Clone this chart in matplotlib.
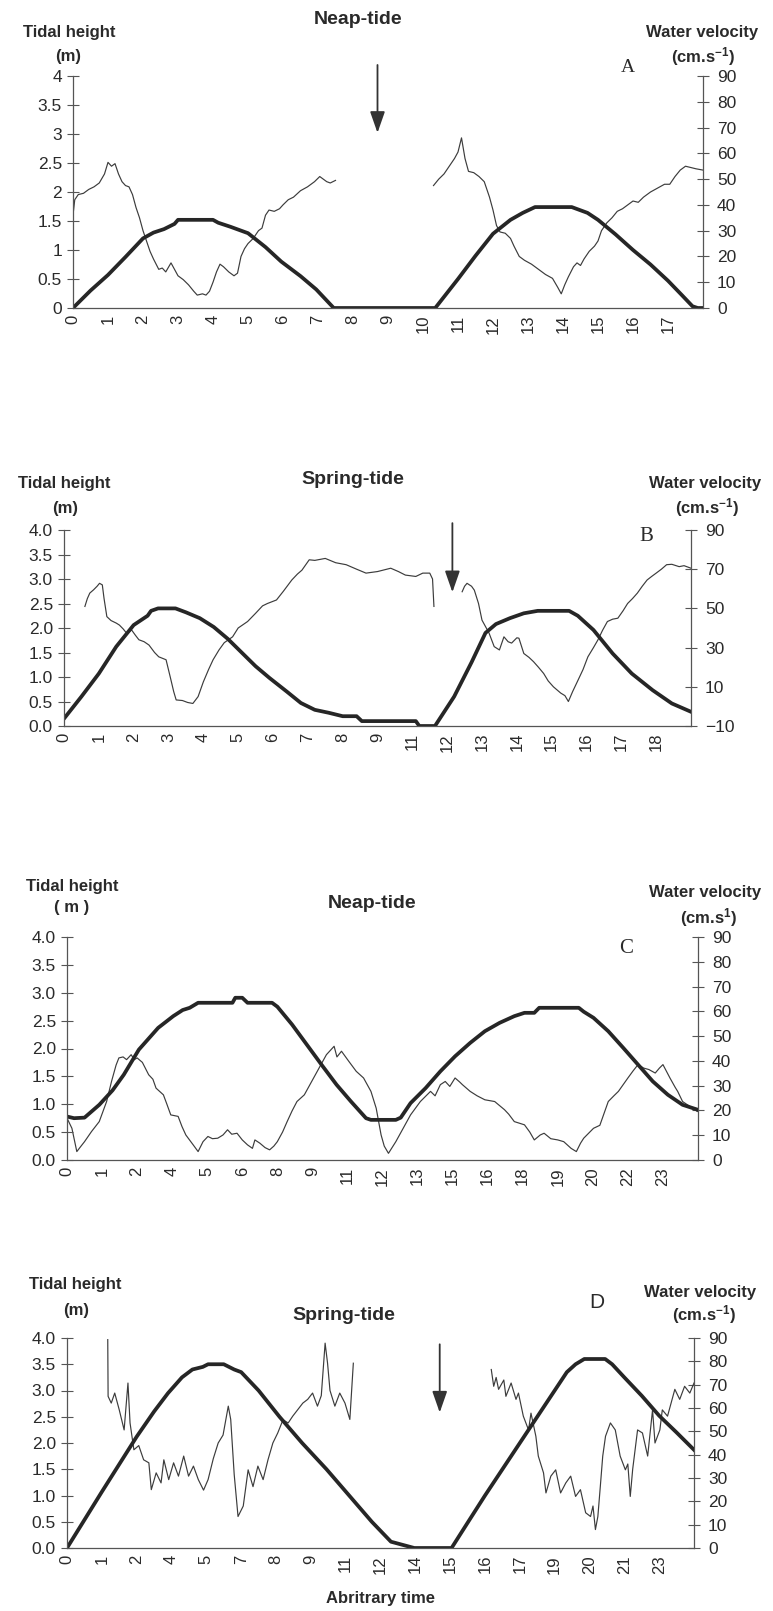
import matplotlib
matplotlib.use('Agg')
import matplotlib.pyplot as plt

# tidal height (m, left axis) and water velocity (cm/s, right axis).
# x is in "label slots": the category axis shows 18 evenly spaced labels at 0..17

# ---- panel A : neap tide ----
a_labels = ['0', '1', '2', '3', '4', '5', '6', '7', '8', '9', '10', '11', '12', '13', '14', '15', '16', '17']
a_h_t = [0, 0.5, 1.0, 1.5, 2.0, 2.3, 2.6, 2.9, 3.0, 4.0, 4.15, 4.5, 5.0, 5.5, 5.95, 6.5, 6.95, 7.45,
         10.35, 11.0, 11.5, 12.0, 12.5, 12.85, 13.2, 14.25, 14.7, 15.0, 15.5, 16.0, 16.5, 17.0, 17.4, 17.7, 17.85, 18.0]
a_h = [0, 0.3, 0.57, 0.88, 1.2, 1.3, 1.36, 1.45, 1.52, 1.52, 1.47, 1.4, 1.29, 1.05, 0.8, 0.55, 0.32, 0.0,
       0.0, 0.5, 0.9, 1.28, 1.52, 1.64, 1.74, 1.74, 1.64, 1.52, 1.27, 1.0, 0.75, 0.47, 0.22, 0.03, 0.0, 0.0]
a_v1_t = [0.0, 0.05, 0.15, 0.3, 0.45, 0.6, 0.75, 0.9, 1.0, 1.1, 1.2, 1.3, 1.4, 1.5, 1.6, 1.7, 1.8, 1.9,
          2.0, 2.1, 2.2, 2.3, 2.45, 2.55, 2.65, 2.8, 2.9, 3.0, 3.15, 3.3, 3.45, 3.55, 3.7, 3.8, 3.9, 4.0,
          4.1, 4.2, 4.3, 4.45, 4.6, 4.7, 4.8, 4.9, 5.0, 5.15, 5.3, 5.4, 5.5, 5.6, 5.75, 5.9, 6.0, 6.15,
          6.3, 6.5, 6.7, 6.9, 7.05, 7.15, 7.25, 7.35, 7.5]
a_v1 = [36, 42, 44, 44.5, 46, 47, 48.5, 52, 56.5, 55, 56, 52, 49, 47.5, 47, 44, 39, 35,
        30, 26, 22, 19, 15, 15.5, 14, 17.5, 15, 12.5, 11, 9, 6.5, 5, 5.5, 5, 6.5, 10,
        14, 17, 16, 14, 12.5, 13.5, 20, 23, 25, 27, 30, 31, 36, 38, 37.5, 38.5, 40, 42,
        43, 45.5, 47, 49, 51, 50, 49, 48.5, 49.5]
a_v2_t = [10.3, 10.45, 10.6, 10.75, 10.9, 11.0, 11.1, 11.2, 11.3, 11.45, 11.6, 11.75, 11.9, 12.0, 12.1,
          12.2, 12.35, 12.5, 12.6, 12.75, 12.9, 13.1, 13.3, 13.5, 13.7, 13.85, 13.95, 14.05, 14.15,
          14.3, 14.4, 14.5, 14.6, 14.75, 14.9, 15.0, 15.1, 15.25, 15.4, 15.55, 15.7, 15.85, 16.0,
          16.15, 16.3, 16.5, 16.7, 16.9, 17.05, 17.2, 17.35, 17.5, 17.65, 17.8, 18.0]
a_v2 = [47.5, 50, 52, 55, 58, 60.5, 66, 58, 53, 52.5, 51, 49, 43, 38, 32,
        29.5, 29, 27, 24, 20, 18.5, 17, 15, 13, 11.5, 8, 5.5, 9, 12,
        16, 17.5, 16.5, 19, 22, 24, 26, 30, 33, 35, 37.5, 38.5, 40, 41.5,
        41, 43, 45, 46.5, 48, 48, 51, 53.5, 55, 54.5, 54, 53.5]

# ---- panel B : spring tide ----
b_labels = ['0', '1', '2', '3', '4', '5', '6', '7', '8', '9', '11', '12', '13', '14', '15', '16', '17', '18']
b_h_t = [0, 0.5, 1.0, 1.5, 2.0, 2.4, 2.5, 2.7, 3.2, 3.5, 3.9, 4.3, 4.7, 5.1, 5.5, 5.9, 6.4, 6.8, 7.2,
         7.6, 8.0, 8.4, 8.55, 10.1, 10.2, 10.65, 11.2, 11.7, 12.1, 12.4, 12.8, 13.2, 13.6, 14.5, 14.75,
         15.2, 15.75, 16.3, 16.9, 17.45, 18.0]
b_h = [0.15, 0.6, 1.07, 1.62, 2.06, 2.25, 2.35, 2.4, 2.4, 2.32, 2.2, 2.02, 1.78, 1.5, 1.22, 0.98, 0.7,
       0.47, 0.33, 0.27, 0.2, 0.2, 0.1, 0.1, 0.0, 0.0, 0.6, 1.3, 1.9, 2.08, 2.2, 2.3, 2.35, 2.35, 2.25,
       1.96, 1.48, 1.07, 0.73, 0.46, 0.29]
b_v1_t = [0.6, 0.67, 0.74, 0.85, 0.95, 1.02, 1.1, 1.15, 1.23, 1.35, 1.5, 1.59, 1.7, 1.8, 1.94, 2.05,
          2.15, 2.3, 2.44, 2.6, 2.72, 2.93, 3.05, 3.15, 3.22, 3.4, 3.55, 3.7, 3.85, 4.0, 4.15, 4.28,
          4.45, 4.6, 4.84, 5.0, 5.27, 5.5, 5.7, 5.84, 6.1, 6.3, 6.54, 6.7, 6.83, 7.04, 7.2, 7.5, 7.8,
          8.1, 8.4, 8.67, 9.0, 9.38, 9.6, 9.8, 10.1, 10.3, 10.5, 10.58, 10.62]
b_v1 = [51, 55, 57.8, 59.5, 61.3, 62.8, 62, 55, 45.8, 43.8, 42.5, 41.5, 39.5, 37.3, 39, 36.3,
        34, 33, 31.3, 27.5, 25.3, 23.8, 15, 7.5, 3.3, 3, 2, 1.5, 5, 12.5, 18.8, 23.8,
        28.8, 32.5, 35.5, 40, 43.3, 47.5, 51.3, 52.5, 54.3, 58.8, 64.5, 67.5, 69.5, 74.8, 74.5, 75.5, 73.3,
        72.3, 70, 68, 68.8, 70.5, 68.8, 67, 66.3, 68, 68, 65, 51]
b_v2_t = [11.43, 11.5, 11.57, 11.7, 11.78, 11.9, 12.0, 12.2, 12.35, 12.5, 12.63, 12.75, 12.85, 13.0,
          13.06, 13.2, 13.35, 13.48, 13.62, 13.77, 13.9, 14.05, 14.26, 14.38, 14.48, 14.6, 14.76,
          14.9, 15.04, 15.2, 15.33, 15.46, 15.6, 15.75, 15.9, 16.05, 16.18, 16.32, 16.46, 16.6,
          16.74, 16.87, 17.0, 17.15, 17.3, 17.45, 17.66, 17.8, 18.0]
b_v2 = [58.5, 61.3, 62.8, 61.3, 59.3, 52.5, 44, 37.5, 30.5, 28.8, 35.5, 33, 32.3, 35,
        34.8, 27, 25, 22.8, 20, 16.8, 13, 10, 6.8, 5.5, 2.5, 7.5, 13.5,
        18.8, 25.3, 30, 34, 38.8, 43.3, 44.5, 45, 48.8, 52.5, 55, 57.8, 61.3,
        64.5, 66.3, 68, 70, 72.3, 72.5, 71.3, 71.8, 70.5]

# ---- panel C : neap tide ----
c_labels = ['0', '1', '2', '4', '5', '6', '8', '9', '11', '12', '13', '15', '16', '18', '19', '20', '22', '23']
c_h_t = [0, 0.2, 0.5, 0.92, 1.3, 1.62, 2.05, 2.6, 3.03, 3.3, 3.5, 3.74, 4.72, 4.8, 5.0, 5.15, 5.85, 6.0,
         6.42, 6.84, 7.26, 7.69, 8.1, 8.53, 8.67, 9.38, 9.52, 9.8, 10.23, 10.65, 11.07, 11.5, 11.92,
         12.34, 12.76, 13.05, 13.33, 13.47, 14.6, 14.74, 15.02, 15.44, 15.87, 16.29, 16.71, 17.14,
         17.56, 18.0]
c_h = [0.78, 0.75, 0.76, 0.99, 1.25, 1.53, 1.98, 2.37, 2.58, 2.69, 2.73, 2.82, 2.82, 2.91, 2.91, 2.82, 2.82, 2.75,
       2.43, 2.07, 1.71, 1.35, 1.05, 0.75, 0.72, 0.72, 0.76, 1.02, 1.29, 1.59, 1.86, 2.1, 2.31,
       2.46, 2.58, 2.64, 2.64, 2.73, 2.73, 2.66, 2.55, 2.31, 2.01, 1.71, 1.41, 1.17,
       0.99, 0.9]
c_v_t = [0.0, 0.14, 0.28, 0.4, 0.5, 0.7, 0.92, 1.13, 1.27, 1.4, 1.48, 1.6, 1.7, 1.83, 1.92, 2.0, 2.15,
         2.33, 2.45, 2.54, 2.75, 2.85, 2.96, 3.17, 3.28, 3.39, 3.6, 3.74, 3.88, 4.02, 4.15, 4.3, 4.45,
         4.58, 4.7, 4.85, 5.0, 5.15, 5.29, 5.36, 5.5, 5.65, 5.78, 5.9, 6.0, 6.15, 6.28, 6.42, 6.56,
         6.77, 6.98, 7.19, 7.4, 7.62, 7.7, 7.83, 8.04, 8.25, 8.46, 8.67, 8.82, 8.96, 9.05, 9.17, 9.38,
         9.59, 9.8, 10.08, 10.37, 10.5, 10.65, 10.79, 10.92, 11.07, 11.2, 11.28, 11.5, 11.7, 11.92,
         12.2, 12.48, 12.6, 12.76, 13.05, 13.2, 13.33, 13.5, 13.61, 13.8, 14.0, 14.17, 14.38, 14.53,
         14.65, 14.74, 15.02, 15.2, 15.3, 15.44, 15.6, 15.73, 16.0, 16.15, 16.29, 16.45, 16.6, 16.78,
         16.9, 17.0, 17.2, 17.35, 17.42, 17.56, 17.77, 17.98]
c_v = [16.9, 12.8, 3.4, 5.6, 7.4, 11.5, 15.5, 23.6, 31.7, 38.3, 41.2, 41.6, 40.5, 42.5, 40.5, 41.2, 39.4,
       34.4, 32.6, 29, 26.3, 22.5, 18.2, 17.6, 13.5, 10.1, 6.1, 3.4, 7.4, 9.5, 8.6, 8.8, 10.1,
       12.2, 10.4, 10.8, 8.1, 6.1, 4.7, 8.1, 6.8, 5, 4.1, 5.6, 7.4, 11.3, 15.5, 19.8, 23.6,
       26.3, 31.7, 37.1, 42.5, 45.9, 41.6, 43.9, 39.8, 35.8, 33.1, 27.7, 20.9, 10.1, 5.6, 2.7, 7.4,
       12.8, 18.2, 23.6, 27.7, 25.9, 30.4, 31.7, 29.7, 33.1, 31.5, 30.4, 27.7, 25.9, 24.3,
       23.6, 20.3, 18.5, 15.5, 14.2, 11.3, 8.1, 10.1, 10.8, 8.6, 8.1, 7.4, 4.7, 3.4,
       6.8, 8.8, 12.8, 14, 18, 23.6, 25.9, 27.7, 33.1, 36, 38.5, 37.1, 36.5, 35.1,
       37.1, 38.5, 33.1, 29.3, 27.7, 23.6, 21.6, 19.6]

# ---- panel D : spring tide ----
d_labels = ['0', '1', '2', '4', '5', '7', '8', '9', '11', '12', '14', '15', '16', '17', '19', '20', '21', '23']
d_h_t = [0, 1.0, 2.0, 2.5, 2.9, 3.3, 3.6, 3.9, 4.05, 4.5, 4.65, 4.8, 5.0, 5.5, 6.1, 6.75, 7.45, 8.1, 8.75,
         9.3, 9.97, 11.04, 11.5, 12.0, 12.5, 13.0, 13.5, 14.0, 14.35, 14.6, 14.85, 15.45, 15.65, 16.0,
         16.5, 17.0, 17.5, 18.0]
d_h = [0, 1.07, 2.12, 2.6, 2.95, 3.25, 3.4, 3.45, 3.5, 3.5, 3.45, 3.4, 3.35, 3.0, 2.5, 2.0, 1.5, 1.0, 0.5,
       0.12, 0.0, 0.0, 0.48, 1.0, 1.5, 2.0, 2.5, 3.0, 3.35, 3.5, 3.6, 3.6, 3.5, 3.25,
       2.9, 2.52, 2.2, 1.87]
d_v1_t = [1.17, 1.18, 1.27, 1.37, 1.5, 1.64, 1.75, 1.81, 1.92, 2.06, 2.2, 2.35, 2.42, 2.56, 2.7, 2.78,
          2.92, 3.06, 3.2, 3.35, 3.49, 3.63, 3.77, 3.92, 4.05, 4.2, 4.34, 4.48, 4.63, 4.7, 4.8, 4.91,
          5.06, 5.2, 5.34, 5.48, 5.63, 5.77, 5.91, 6.05, 6.2, 6.35, 6.48, 6.62, 6.77, 6.91, 7.05,
          7.19, 7.3, 7.41, 7.48, 7.55, 7.69, 7.83, 7.98, 8.12, 8.22]
d_v1 = [89.3, 65, 62.1, 66.4, 59.2, 50.6, 70.7, 53.6, 42.1, 43.9, 37.8, 36.5, 25, 32.2, 27.9, 37.8,
        29.3, 36.5, 30.8, 39.4, 30.8, 35.1, 29.3, 24.8, 29.3, 38.3, 45, 48.4, 60.8, 55.1, 31.5, 13.5,
        18, 33.5, 26.3, 35.1, 29.3, 37.8, 45, 49.3, 54.9, 53.6, 56.5, 59.2, 62.1, 63.7, 66.4,
        60.8, 65.3, 87.8, 79.2, 67.5, 60.8, 66.4, 62.1, 55.1, 79.2]
d_v2_t = [12.18, 12.25, 12.32, 12.39, 12.54, 12.6, 12.75, 12.89, 12.96, 13.1, 13.25, 13.32, 13.46,
          13.53, 13.68, 13.75, 13.89, 14.03, 14.17, 14.32, 14.46, 14.6, 14.74, 14.89, 15.03, 15.1,
          15.17, 15.24, 15.31, 15.38, 15.46, 15.6, 15.74, 15.88, 16.03, 16.1, 16.17, 16.24, 16.38,
          16.52, 16.67, 16.81, 16.88, 17.02, 17.09, 17.24, 17.45, 17.59, 17.73, 17.88, 18.0]
d_v2 = [76.5, 69.3, 73.1, 68, 72, 65, 70.7, 63.7, 66.4, 56.5, 50.6, 57.8, 47.9,
        39.4, 32.2, 23.6, 30.8, 33.5, 23.6, 27.9, 30.8, 22.1, 25, 15.1, 13.5, 18,
        7.9, 13.5, 26.3, 39.4, 47.9, 53.6, 50.6, 39.4, 33.5, 36, 22.1, 33.8, 50.6,
        49.3, 39.4, 59.2, 45, 50.6, 59.2, 56.5, 68, 63.7, 69.3, 66.4, 70.7]

h_ticks = [0, 0.5, 1, 1.5, 2, 2.5, 3, 3.5, 4]
a_h_ticklabels = ['0', '0.5', '1', '1.5', '2', '2.5', '3', '3.5', '4']
h_ticklabels = ['0.0', '0.5', '1.0', '1.5', '2.0', '2.5', '3.0', '3.5', '4.0']
v_ticks = [0, 10, 20, 30, 40, 50, 60, 70, 80, 90]
b_v_ticks = [-10, 10, 30, 50, 70, 90]

W, H = 773, 1611
THICK = '#262626'
THIN = '#3c3c3c'
AXC = '#555555'
TXT = '#2a2a2a'

plt.rcParams['font.family'] = ['Liberation Sans', 'DejaVu Sans']
plt.rcParams['mathtext.fontset'] = 'custom'
plt.rcParams['mathtext.rm'] = 'Liberation Sans'
plt.rcParams['mathtext.default'] = 'regular'

fig = plt.figure(figsize=(W / 100, H / 100), dpi=100)
fig.patch.set_facecolor('white')


def put(x, y, s, size=12, weight='bold', family=None, **kw):
    kw.setdefault('ha', 'center')
    kw.setdefault('va', 'center')
    if family is not None:
        kw['family'] = family
    fig.text(x / W, 1 - y / H, s, fontsize=size, fontweight=weight, color=TXT, **kw)


def panel(left, right, top, bottom, h_t, h, vel, labels, hlabels, vlim, vticks):
    ax = fig.add_axes([left / W, 1 - bottom / H, (right - left) / W, (bottom - top) / H])
    ax2 = ax.twinx()
    ax.set_zorder(ax2.get_zorder() + 1)
    ax.patch.set_visible(False)

    for t, v in vel:
        ax2.plot(t, v, color=THIN, lw=0.85)
    ax.plot(h_t, h, color=THICK, lw=2.7, solid_joinstyle='round')

    ax.set_xlim(0, 18)
    ax.set_ylim(0, 4)
    ax2.set_ylim(*vlim)
    ax.set_xticks(range(len(labels)))
    ax.set_xticklabels(labels, rotation=90)
    ax.set_yticks(h_ticks)
    ax.set_yticklabels(hlabels)
    ax2.set_yticks(vticks)

    for s in ['top', 'right']:
        ax.spines[s].set_visible(False)
    for s in ['top', 'left', 'bottom']:
        ax2.spines[s].set_visible(False)
    for s in ['left', 'bottom']:
        ax.spines[s].set_color(AXC)
        ax.spines[s].set_linewidth(0.9)
    ax2.spines['right'].set_color(AXC)
    ax2.spines['right'].set_linewidth(0.9)

    ax.tick_params(axis='x', length=0, pad=5, labelsize=12, labelcolor=TXT)
    ax.tick_params(axis='y', direction='inout', length=8, width=0.8, color=AXC,
                   pad=4, labelsize=12.5, labelcolor=TXT)
    ax2.tick_params(axis='y', direction='inout', length=8, width=0.8, color=AXC,
                    pad=6, labelsize=12.5, labelcolor=TXT)
    return ax


def arrow(ax, x, y0, y1):
    ax.annotate('', xy=(x, y1), xytext=(x, y0), annotation_clip=False,
                arrowprops=dict(arrowstyle='-|>,head_length=1.0,head_width=0.35',
                                mutation_scale=13, lw=1.3, color='#333333',
                                shrinkA=0, shrinkB=0))


vel_unit = '(cm.s$^{-1}$)'

# A
ax = panel(73, 703, 76, 308, a_h_t, a_h, [(a_v1_t, a_v1), (a_v2_t, a_v2)],
           a_labels, a_h_ticklabels, (0, 90), v_ticks)
arrow(ax, 8.7, 4.19, 3.02)
put(358, 20, 'Neap-tide', size=14)
put(69, 33, 'Tidal height')
put(68, 57, '(m)')
put(702, 33, 'Water velocity')
put(703, 57, vel_unit)
put(628, 68, 'A', size=14, weight='normal', family='Liberation Serif')

# B
ax = panel(64, 691, 530, 726, b_h_t, b_h, [(b_v1_t, b_v1), (b_v2_t, b_v2)],
           b_labels, h_ticklabels, (-10, 90), b_v_ticks)
arrow(ax, 11.15, 4.14, 2.73)
put(353, 480, 'Spring-tide', size=14)
put(64, 483, 'Tidal height')
put(65, 508, '(m)')
put(705, 483, 'Water velocity')
put(707, 508, vel_unit)
put(646, 537, 'B', size=15, weight='normal', family='Liberation Serif')

# C
ax = panel(67, 698, 937, 1160, c_h_t, c_h, [(c_v_t, c_v)],
           c_labels, h_ticklabels, (0, 90), v_ticks)
put(372, 903, 'Neap-tide', size=14)
put(72, 886, 'Tidal height')
put(72, 908, '( m )')
put(705, 893, 'Water velocity')
put(709, 918, '(cm.s$^{1}$)')
put(626, 948, 'C', size=15, weight='normal', family='Liberation Serif')

# D
ax = panel(67, 694, 1338, 1548, d_h_t, d_h, [(d_v1_t, d_v1), (d_v2_t, d_v2)],
           d_labels, h_ticklabels, (0, 90), v_ticks)
arrow(ax, 10.7, 3.88, 2.58)
put(344, 1316, 'Spring-tide', size=14)
put(75, 1285, 'Tidal height')
put(76, 1310, '(m)')
put(700, 1292, 'Water velocity')
put(704, 1315, vel_unit)
put(597, 1302, 'D', size=15, weight='normal')
put(381, 1598, 'Abritrary time')

fig.savefig('out.png', dpi=100, facecolor='white')
